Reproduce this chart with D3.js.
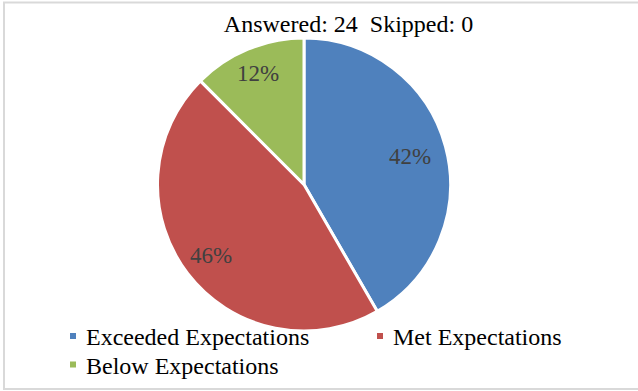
<!DOCTYPE html>
<html>
<head>
<meta charset="utf-8">
<script src="https://cdn.jsdelivr.net/npm/d3@7"></script>
<style>
  body { margin: 0; background: #fff; }
  svg text { white-space: pre; }
</style>
</head>
<body>
<div id="viz"></div>
<script>
// survey answers (24 answered)
const categories = ['Exceeded Expectations', 'Met Expectations', 'Below Expectations'];
const counts = [10, 11, 3];
const pctLabels = ['42%', '46%', '12%'];
const colors = ['#4f81bd', '#c0504d', '#9bbb59'];
const title = 'Answered: 24  Skipped: 0';

const width = 638, height = 391;
const font = '"Liberation Serif", "Times New Roman", Tinos, serif';

const svg = d3.select('#viz')
  .append('svg')
  .attr('width', width)
  .attr('height', height);

// outer frame
svg.append('rect')
  .attr('x', 4).attr('y', 2.5)
  .attr('width', 640).attr('height', 386.5)
  .attr('fill', 'none')
  .attr('stroke', '#d9d9d9')
  .attr('stroke-width', 2);

svg.append('text')
  .attr('x', 348.5).attr('y', 32)
  .attr('text-anchor', 'middle')
  .style('font-family', font)
  .style('font-size', '24px')
  .attr('fill', '#000')
  .text(title);

// pie
const cx = 304, cy = 184.5, r = 146.5;
const pie = d3.pie().sort(null).value(d => d);
const arc = d3.arc().innerRadius(0).outerRadius(r);
// excel pushes the labels of the smaller slices a bit further out
const labelRadius = [0.75, 0.8, 0.82];

const g = svg.append('g').attr('transform', `translate(${cx},${cy})`);
const arcs = pie(counts);

g.selectAll('path')
  .data(arcs)
  .enter()
  .append('path')
  .attr('d', arc)
  .attr('fill', (d, i) => colors[i])
  .attr('stroke', '#fff')
  .attr('stroke-width', 3)
  .attr('stroke-linejoin', 'round');

g.selectAll('text.pct')
  .data(arcs)
  .enter()
  .append('text')
  .attr('class', 'pct')
  .attr('transform', (d, i) => {
    const la = d3.arc().innerRadius(r * labelRadius[i]).outerRadius(r * labelRadius[i]);
    return `translate(${la.centroid(d)})`;
  })
  .attr('dy', '0.33em')
  .attr('text-anchor', 'middle')
  .style('font-family', font)
  .style('font-size', '23px')
  .attr('fill', '#404040')
  .text((d, i) => pctLabels[i]);

// legend
const legendPos = [[70, 336], [377, 336], [70, 364.5]];
const legend = svg.selectAll('g.legend')
  .data(categories)
  .enter()
  .append('g')
  .attr('class', 'legend')
  .attr('transform', (d, i) => `translate(${legendPos[i][0]},${legendPos[i][1]})`);

legend.append('rect')
  .attr('x', 0).attr('y', -3)
  .attr('width', 6).attr('height', 6)
  .attr('fill', (d, i) => colors[i]);

legend.append('text')
  .attr('x', 16).attr('y', 9)
  .style('font-family', font)
  .style('font-size', '24px')
  .attr('fill', '#000')
  .text(d => d);
</script>
</body>
</html>
